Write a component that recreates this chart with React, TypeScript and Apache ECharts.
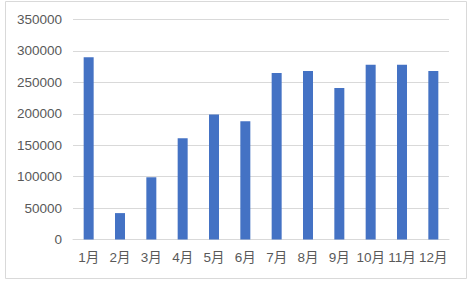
import React, { useEffect, useRef } from "react";
import * as echarts from "echarts";

const categories = ["1月", "2月", "3月", "4月", "5月", "6月", "7月", "8月", "9月", "10月", "11月", "12月"];
const values = [290000, 42000, 99000, 161000, 199000, 188000, 265000, 268000, 241000, 278000, 278000, 268000];
const yTicks = { min: 0, max: 350000, interval: 50000 };

export default function App() {
  const ref = useRef<HTMLDivElement>(null);
  useEffect(() => {
    const chart = echarts.init(ref.current!, null, { renderer: "svg" });
    chart.setOption({
      animation: false,
      backgroundColor: "#ffffff",
      graphic: [
        {
          type: "rect",
          shape: { x: 5.5, y: 1.5, width: 461, height: 277 },
          style: { fill: "none", stroke: "#d9d9d9", lineWidth: 1 },
          silent: true,
        },
      ],
      grid: { left: 73, right: 23, top: 19.5, bottom: 44.5, containLabel: false },
      xAxis: {
        type: "category",
        data: categories,
        axisTick: { show: false },
        axisLine: { show: true, lineStyle: { color: "#d9d9d9", width: 1 } },
        axisLabel: {
          color: "#595959",
          fontSize: 13.5,
          fontFamily: "Liberation Sans, Noto Sans CJK JP, sans-serif",
          margin: 11,
          interval: 0,
        },
      },
      yAxis: {
        type: "value",
        min: yTicks.min,
        max: yTicks.max,
        interval: yTicks.interval,
        axisLine: { show: false },
        axisTick: { show: false },
        splitLine: { lineStyle: { color: "#d9d9d9", width: 1 } },
        axisLabel: {
          color: "#595959",
          fontSize: 13.5,
          fontFamily: "Liberation Sans, sans-serif",
          margin: 11,
          formatter: (v: number) => String(v),
        },
      },
      series: [
        {
          type: "bar",
          data: values,
          barWidth: 10,
          itemStyle: { color: "#4472c4" },
        },
      ],
    });
    return () => chart.dispose();
  }, []);
  return (
    <div
      ref={ref}
      style={{ position: "fixed", left: 0, top: 0, width: 472, height: 284 }}
    />
  );
}
